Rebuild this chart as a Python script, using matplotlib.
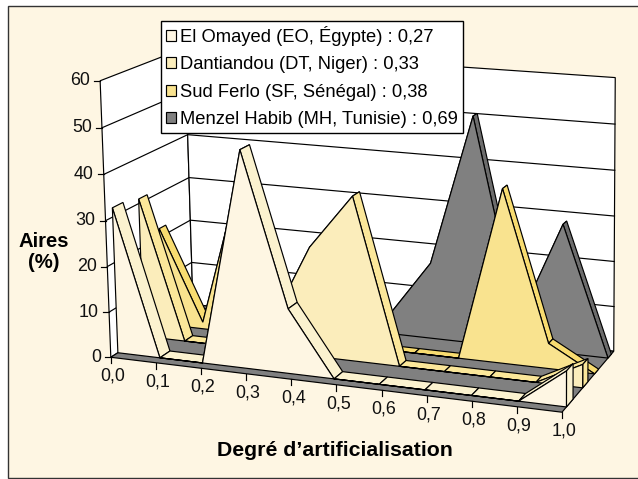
import numpy as np
import matplotlib
matplotlib.use('Agg')
import matplotlib.pyplot as plt
from matplotlib.patches import Patch, Polygon, Rectangle

plt.rcParams['font.family'] = ['Liberation Sans', 'DejaVu Sans']

###### Data ######
x_vals = [0.0, 0.1, 0.2, 0.3, 0.4, 0.5, 0.6, 0.7, 0.8, 0.9, 1.0]
x_labels = ['0,0', '0,1', '0,2', '0,3', '0,4', '0,5', '0,6', '0,7', '0,8', '0,9', '1,0']
y_ticks = [0, 10, 20, 30, 40, 50, 60]

el_omayed = [32, 0, 0, 47, 14, 0, 0, 0, 0, 0, 7.5]
dantiandou = [31, 0, 0, 5, 24, 36, 0, 0, 0, 0, 5]
sud_ferlo = [22, 1.5, 36, 0, 0, 0, 0, 0, 38, 5.5, 0]
menzel = [0, 0, 0, 0, 0, 4, 17, 50.5, 6, 28.5, 0]

series_names = ['El Omayed (EO, Égypte) : 0,27', 'Dantiandou (DT, Niger) : 0,33',
                'Sud Ferlo (SF, Sénégal) : 0,38', 'Menzel Habib (MH, Tunisie) : 0,69']

###### Style ######
face_cols = ['#FEF6E3', '#FBEDBB', '#F9E38F', '#808080']
top_cols = ['#FBF2CF', '#FBE79A', '#F8DC70', '#6C6C6C']
bg_col = '#FEF6E3'
lw = 0.85
# depth slots of the series (0 = front of floor, 1 = back wall)
depth_front = [0.08, 0.38, 0.61, 0.88]
depth_back = [0.20, 0.48, 0.69, 0.95]

###### 3D projection, fitted on the corners of the chart box ######
box_3d = [(0, 0, 0), (1, 0, 0), (1, 1, 0), (0, 1, 0), (0, 0, 60), (1, 0, 60), (1, 1, 60), (0, 1, 60)]
box_px = [(111, 356), (568, 413), (609, 350), (192, 306), (100, 79), (556, 118), (620, 76), (186, 49)]
rows = []
for (a, b, c), (u, v) in zip(box_3d, box_px):
    rows.append([a, b, c, 1, 0, 0, 0, 0, -u*a, -u*b, -u*c, -u])
    rows.append([0, 0, 0, 0, a, b, c, 1, -v*a, -v*b, -v*c, -v])
P = np.linalg.svd(np.array(rows, dtype=float))[2][-1].reshape(3, 4)


def proj(x, d, y):
    h = P @ np.array([x, d, y, 1.0])
    return h[0]/h[2], h[1]/h[2]


fig = plt.figure(figsize=(6.38, 4.79), dpi=100, facecolor='white')
ax = fig.add_axes([0, 0, 1, 1])
ax.set_xlim(0, 638)
ax.set_ylim(479, 0)
ax.axis('off')


def poly(pts, col, z=2, edge='black', w=lw):
    ax.add_patch(Polygon([proj(*p) for p in pts], closed=True, facecolor=col, edgecolor=edge,
                         linewidth=w, joinstyle='miter', zorder=z))


# frame
ax.add_patch(Rectangle((8, 6), 640, 472, facecolor=bg_col, edgecolor='#333333', linewidth=1.0, zorder=0))

# walls and floor
poly([(0, 0, 0), (0, 1, 0), (0, 1, 60), (0, 0, 60)], 'white', z=1)
poly([(0, 1, 0), (1, 1, 0), (1, 1, 60), (0, 1, 60)], 'white', z=1)
poly([(0, 0, 0), (1, 0, 0), (1, 1, 0), (0, 1, 0)], '#808080', z=1)
for t in y_ticks[1:-1]:
    xs, ys = zip(proj(0, 0, t), proj(0, 1, t), proj(1, 1, t))
    ax.plot(xs, ys, color='black', lw=lw, zorder=1)

# axis ticks and labels (ticks are evenly spaced along the front edge)
for t in y_ticks:
    u, v = proj(0, 0, t)
    ax.plot([u-6, u], [v, v], color='black', lw=lw, zorder=1)
    ax.text(u-10, v, str(t), ha='right', va='center', fontsize=12.9, color='#111111')
(u0, v0), (u1, v1) = proj(0, 0, 0), proj(1, 0, 0)
for xv, lab in zip(x_vals, x_labels):
    u, v = u0 + xv*(u1-u0), v0 + xv*(v1-v0)
    ax.plot([u, u], [v, v+6], color='black', lw=lw, zorder=1)
    ax.text(u+2, v+19, lab, ha='center', va='center', fontsize=12.9, color='#111111')

# series, back to front
all_series = [el_omayed, dantiandou, sud_ferlo, menzel]
for i in [3, 2, 1, 0]:
    vals = all_series[i]
    d0, d1 = depth_front[i], depth_back[i]
    z = 10 - i
    for k in range(len(x_vals)-1):
        poly([(x_vals[k], d0, vals[k]), (x_vals[k+1], d0, vals[k+1]),
              (x_vals[k+1], d1, vals[k+1]), (x_vals[k], d1, vals[k])], top_cols[i], z=z)
    if vals[-1] > 0:
        poly([(1, d0, 0), (1, d1, 0), (1, d1, vals[-1]), (1, d0, vals[-1])], top_cols[i], z=z)
    front = [(0, d0, 0)] + [(a, d0, b) for a, b in zip(x_vals, vals)] + [(1, d0, 0)]
    poly(front, face_cols[i], z=z)

# texts
ax.text(44, 252, 'Aires\n(%)', ha='center', va='center', fontsize=14.6, fontweight='bold',
        color='black', linespacing=1.15)
ax.text(334.5, 451, 'Degré d’artificialisation', ha='center', va='center', fontsize=15.3,
        fontweight='bold', color='black')

# legend
handles = [Patch(facecolor=c, edgecolor='black', linewidth=lw) for c in face_cols]
leg = ax.legend(handles, series_names, loc='upper left', bbox_to_anchor=(161, 21),
                bbox_transform=ax.transData, fontsize=13.2, frameon=True, fancybox=False,
                framealpha=1, edgecolor='black', borderaxespad=0, borderpad=0.25,
                handlelength=0.55, handleheight=0.55, handletextpad=0.25, labelspacing=0.575)
leg.get_frame().set_linewidth(1.0)
leg.set_zorder(20)

fig.savefig('out.png', dpi=100)
